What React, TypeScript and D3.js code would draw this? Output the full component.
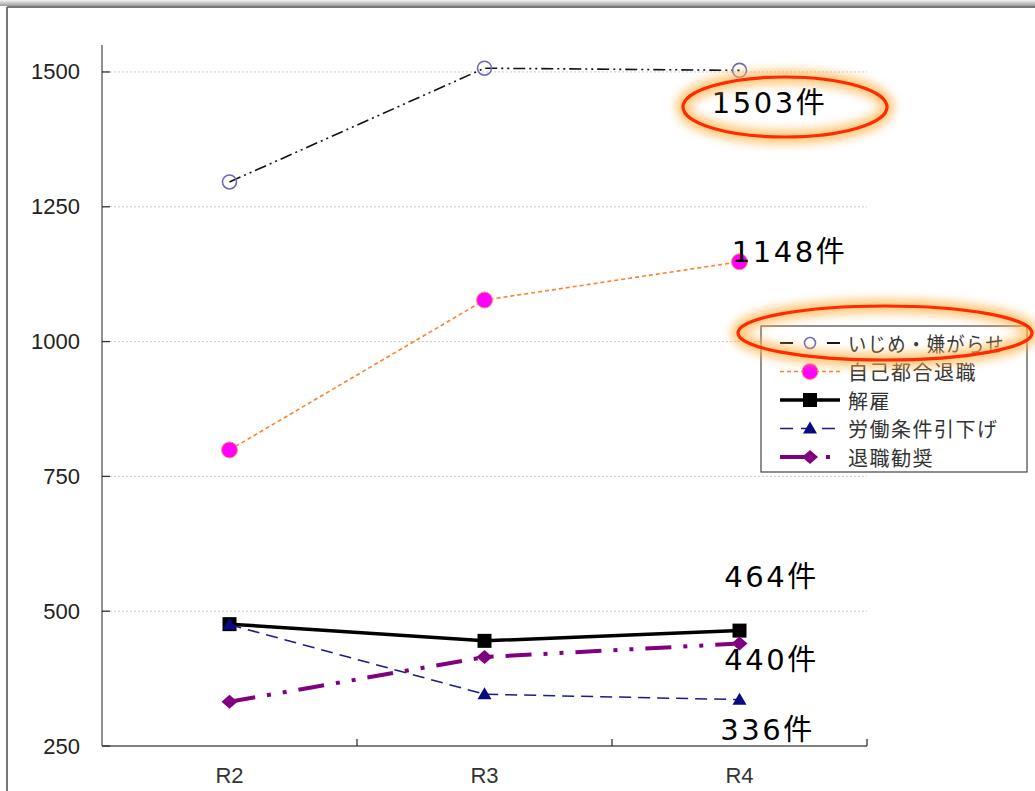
import React from "react";
import * as d3 from "d3";

// Fiscal years on the x axis
const categories = ["R2", "R3", "R4"];

// Consultation counts per category
const seriesNames = ["いじめ・嫌がらせ", "自己都合退職", "解雇", "労働条件引下げ", "退職勧奨"];
const bullyingValues = [1296, 1507, 1503];
const resignationValues = [799, 1077, 1148];
const dismissalValues = [476, 445, 464];
const workingConditionValues = [475, 346, 336];
const retirementAdviceValues = [332, 415, 440];

const yTickValues = [250, 500, 750, 1000, 1250, 1500];

// Unit appended to the R4 value labels
const labelSuffix = "件";

const W = 1035;
const H = 791;
const plot = { left: 102, right: 867, top: 45, bottom: 746 };

type Marker = "openCircle" | "circle" | "square" | "triangle" | "diamond";

interface Style {
  stroke: string;
  width: number;
  dash: string;
  legendDash: string;
  marker: Marker;
  markerFill: string;
  markerStroke: string;
}

const styles: Style[] = [
  { stroke: "#111", width: 1.6, dash: "12,4,2,4,2,4", legendDash: "13,34", marker: "openCircle", markerFill: "none", markerStroke: "#6a6ab8" },
  { stroke: "#ff7f2a", width: 1.6, dash: "4,3", legendDash: "4,3", marker: "circle", markerFill: "#ff00ff", markerStroke: "#ff9a50" },
  { stroke: "#000", width: 3.5, dash: "", legendDash: "", marker: "square", markerFill: "#000", markerStroke: "#000" },
  { stroke: "#1a1a8c", width: 1.5, dash: "12,7", legendDash: "13,8", marker: "triangle", markerFill: "#0a0a80", markerStroke: "#0a0a80" },
  { stroke: "#800080", width: 4, dash: "26,12,4,12,4,12", legendDash: "32,14,4,100", marker: "diamond", markerFill: "#800080", markerStroke: "#800080" },
];

const allValues = [bullyingValues, resignationValues, dismissalValues, workingConditionValues, retirementAdviceValues];

// Offsets of the value labels from the R4 point of each series
const labelOffsets = [
  { dx: 30, dy: 33 },
  { dx: 50, dy: -10 },
  { dx: 32, dy: -54 },
  { dx: 28, dy: 30 },
  { dx: 32, dy: 16 },
];

function MarkerShape({ kind, x, y, s, small }: { kind: Marker; x: number; y: number; s: Style; small?: boolean }) {
  switch (kind) {
    case "openCircle":
      return <circle cx={x} cy={y} r={small ? 5.5 : 7} fill="none" stroke={s.markerStroke} strokeWidth={1.6} />;
    case "circle":
      return <circle cx={x} cy={y} r={8} fill={s.markerFill} stroke={s.markerStroke} strokeWidth={1} />;
    case "square":
      return <rect x={x - 7} y={y - 7} width={14} height={14} fill={s.markerFill} />;
    case "triangle":
      return <path d={`M${x},${y - 7}L${x + 7},${y + 5}L${x - 7},${y + 5}Z`} fill={s.markerFill} />;
    case "diamond":
      return <path d={`M${x},${y - 7}L${x + 8},${y}L${x},${y + 7}L${x - 8},${y}Z`} fill={s.markerFill} />;
  }
}

export default function App() {
  const x = d3.scaleBand<string>().domain(categories).range([plot.left, plot.right]);
  const cx = (c: string) => (x(c) ?? 0) + x.bandwidth() / 2;
  const y = d3.scaleLinear().domain([250, 1550]).range([plot.bottom, plot.top]);

  const line = d3
    .line<number>()
    .x((_, i) => cx(categories[i]))
    .y((v) => y(v));

  const xTickPositions = categories.map((c) => x(c) ?? 0).slice(1).concat([plot.right]);

  const legend = { x: 761, y: 326, w: 266, h: 146, row0: 343, rowGap: 28.5 };

  const jpFont = "'Noto Sans CJK JP', 'Noto Sans', sans-serif";
  const labelFont = "'DejaVu Sans', 'Noto Sans CJK JP', sans-serif";
  const numFont = "Arial, 'Liberation Sans', sans-serif";
  const lastCat = categories[categories.length - 1];

  return (
    <svg
      width={W}
      height={H}
      style={{ position: "absolute", left: 0, top: 0, background: "#fff" }}
    >
      <defs>
        <linearGradient id="topShade" x1="0" y1="0" x2="0" y2="1">
          <stop offset="0" stopColor="#f4f4f4" />
          <stop offset="1" stopColor="#9a9a9a" />
        </linearGradient>
        <filter id="glow" x="-30%" y="-60%" width="160%" height="220%">
          <feGaussianBlur stdDeviation="5" />
        </filter>
      </defs>

      {/* page frame */}
      <rect x={0} y={0} width={W} height={6} fill="url(#topShade)" />
      <line x1={7} y1={7} x2={W} y2={7} stroke="#777" strokeWidth={2} />
      <line x1={7} y1={7} x2={7} y2={H} stroke="#777" strokeWidth={2} />

      {/* gridlines */}
      {yTickValues.slice(1).map((v) => (
        <line
          key={v}
          x1={plot.left}
          x2={plot.right}
          y1={y(v)}
          y2={y(v)}
          stroke="#bdbdbd"
          strokeWidth={0.8}
          strokeDasharray="2,2"
        />
      ))}

      {/* axes */}
      <line x1={plot.left} y1={plot.top} x2={plot.left} y2={plot.bottom} stroke="#555" strokeWidth={1.3} />
      <line x1={plot.left} y1={plot.bottom} x2={plot.right} y2={plot.bottom} stroke="#555" strokeWidth={1.3} />
      {yTickValues.map((v) => (
        <g key={v}>
          <line x1={plot.left} x2={plot.left + 8} y1={y(v)} y2={y(v)} stroke="#333" strokeWidth={1.3} />
          <text
            x={80}
            y={y(v)}
            textAnchor="end"
            dominantBaseline="central"
            fontFamily={numFont}
            fontSize={22}
            fill="#222"
          >
            {v}
          </text>
        </g>
      ))}
      {xTickPositions.map((p, i) => (
        <line key={i} x1={p} x2={p} y1={plot.bottom} y2={plot.bottom - 7} stroke="#333" strokeWidth={1.3} />
      ))}
      {categories.map((c) => (
        <text
          key={c}
          x={cx(c)}
          y={775}
          textAnchor="middle"
          dominantBaseline="central"
          fontFamily={numFont}
          fontSize={22}
          fill="#333"
        >
          {c}
        </text>
      ))}

      {/* series */}
      {allValues.map((vals, si) => {
        const s = styles[si];
        return (
          <g key={si}>
            <path
              d={line(vals) ?? ""}
              fill="none"
              stroke={s.stroke}
              strokeWidth={s.width}
              strokeDasharray={s.dash || undefined}
            />
            {vals.map((v, i) => (
              <MarkerShape key={i} kind={s.marker} x={cx(categories[i])} y={y(v)} s={s} />
            ))}
          </g>
        );
      })}

      {/* value labels at R4 */}
      {allValues.map((vals, i) => {
        const v = vals[vals.length - 1];
        const px = cx(lastCat) + labelOffsets[i].dx;
        const py = y(v) + labelOffsets[i].dy;
        return (
          <text
            key={i}
            x={px}
            y={py}
            textAnchor="middle"
            dominantBaseline="central"
            fontFamily={labelFont}
            fontSize={29}
            letterSpacing={2.5}
            fill="#000"
          >
            {v}
            {labelSuffix}
          </text>
        );
      })}

      {/* legend */}
      <rect x={legend.x} y={legend.y} width={legend.w} height={legend.h} fill="#fff" stroke="#444" strokeWidth={1.2} />
      {seriesNames.map((name, i) => {
        const s = styles[i];
        const ry = legend.row0 + i * legend.rowGap;
        return (
          <g key={name}>
            <line
              x1={780}
              x2={840}
              y1={ry}
              y2={ry}
              stroke={s.stroke}
              strokeWidth={i === 0 ? 2.2 : s.width}
              strokeDasharray={s.legendDash || undefined}
            />
            <MarkerShape kind={s.marker} x={810} y={ry} s={s} small />
            <text
              x={848}
              y={ry}
              dominantBaseline="central"
              fontFamily={jpFont}
              fontSize={20}
              letterSpacing={1.5}
              fill="#333"
              textLength={name.includes("・") ? 157 : undefined}
              lengthAdjust="spacingAndGlyphs"
            >
              {name}
            </text>
          </g>
        );
      })}

      {/* highlight ellipses */}
      {[
        { cx: 785, cy: 107, rx: 102, ry: 30 },
        { cx: 885, cy: 333, rx: 147, ry: 27 },
      ].map((e, i) => (
        <g key={i}>
          <ellipse {...e} fill="none" stroke="#ffb650" strokeWidth={14} opacity={0.75} filter="url(#glow)" />
          <ellipse {...e} fill="none" stroke="#ff2a00" strokeWidth={3.2} />
        </g>
      ))}
    </svg>
  );
}
